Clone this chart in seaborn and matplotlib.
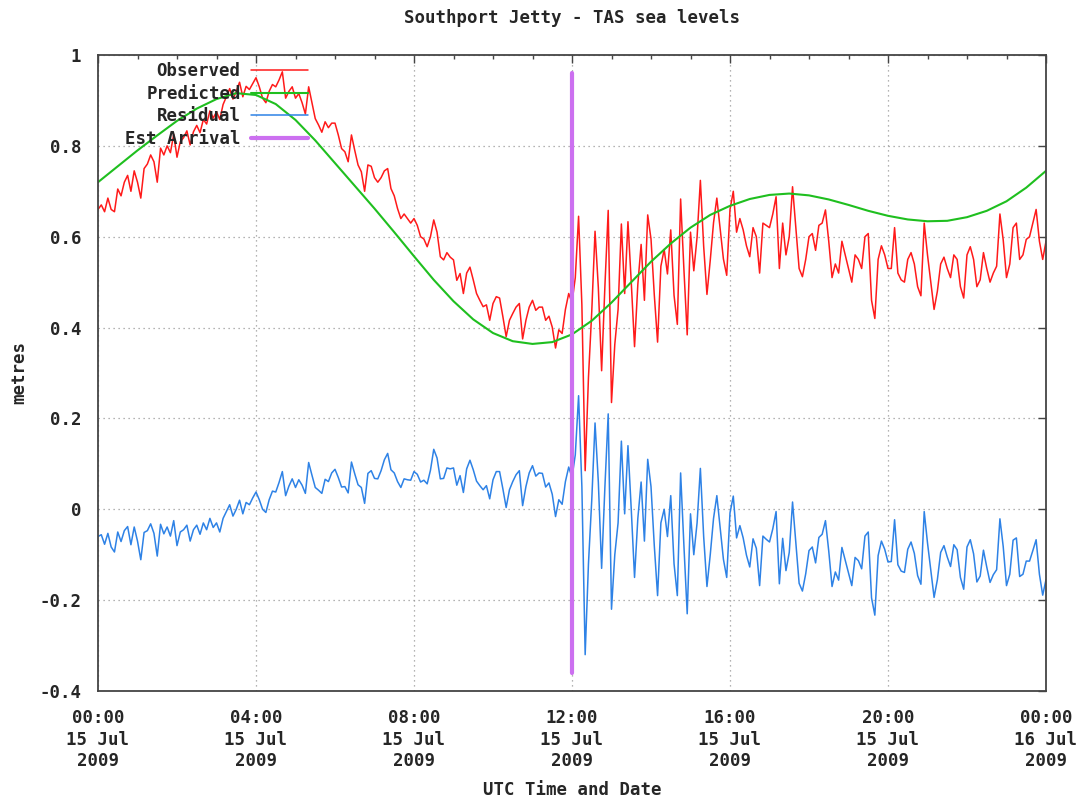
import numpy as np
import pandas as pd
import seaborn as sns
import matplotlib
matplotlib.use('Agg')
import matplotlib.pyplot as plt
import matplotlib.dates as mdates
from matplotlib.ticker import FuncFormatter, MultipleLocator

# observed sea level (m), 5-minute samples from 15 Jul 2009 00:00 UTC
observed = [
    .66, .67, .655, .685, .66, .655, .705, .69, .72, .735, .70, .745,        # 00h
    .72, .685, .75, .76, .78, .765, .72, .795, .78, .80, .785, .825,         # 01h
    .775, .809, .818, .833, .802, .831, .845, .829, .858, .848, .877, .861,  # 02h
    .875, .858, .891, .908, .926, .903, .92, .94, .908, .931, .924, .937,    # 03h
    .95, .93, .905, .895, .92, .935, .93, .945, .963, .905, .92, .93,        # 04h
    .905, .915, .895, .87, .93, .895, .86, .846, .83, .853, .84, .85,        # 05h
    .85, .824, .794, .787, .765, .824, .79, .758, .743, .70, .758, .755,     # 06h
    .73, .72, .73, .745, .75, .706, .69, .662, .64, .65, .64, .63,           # 07h
    .64, .625, .60, .595, .578, .60, .637, .61, .556, .549, .565, .555,      # 08h
    .549, .504, .519, .475, .52, .533, .505, .475, .46, .446, .45, .416,     # 09h
    .453, .468, .465, .424, .38, .416, .431, .445, .453, .375, .416, .445,   # 10h
    .46, .438, .445, .445, .416, .425, .401, .355, .395, .387, .44, .475,    # 11h
    .455, .51, .645, .45, .085, .29, .435, .612, .488, .305, .492, .658,     # 12h
    .235, .363, .44, .628, .475, .633, .50, .358, .495, .583, .46, .648,     # 13h
    .595, .472, .368, .535, .572, .518, .615, .471, .407, .683, .528, .384,  # 14h
    .61, .525, .599, .724, .579, .473, .548, .631, .685, .618, .551, .515,   # 15h
    .66, .70, .61, .64, .615, .58, .556, .62, .60, .52, .63, .625,           # 16h
    .62, .65, .688, .53, .63, .56, .60, .71, .62, .53, .512, .55,            # 17h
    .60, .607, .57, .625, .63, .659, .59, .51, .54, .52, .59, .56,           # 18h
    .53, .50, .56, .55, .53, .60, .607, .46, .42, .55, .58, .56,             # 19h
    .53, .53, .62, .52, .505, .50, .55, .565, .54, .49, .47, .63,            # 20h
    .56, .50, .44, .48, .54, .555, .53, .51, .56, .55, .49, .465,            # 21h
    .56, .578, .55, .49, .505, .565, .53, .50, .52, .535, .65, .593,         # 22h
    .51, .54, .62, .63, .55, .56, .594, .60, .63, .66, .59, .55,             # 23h
    .59,
]

# residual (observed - predicted), same 5-minute samples
residual = [
    -.06, -.056, -.077, -.053, -.083, -.094, -.05, -.071, -.047, -.038, -.078, -.039,
    -.07, -.111, -.051, -.047, -.032, -.053, -.103, -.033, -.054, -.039, -.059, -.025,
    -.08, -.05, -.045, -.035, -.07, -.045, -.035, -.055, -.03, -.045, -.02, -.04,
    -.03, -.05, -.02, -.005, .01, -.015, 0, .02, -.01, .015, .01, .025,
    .038, .021, 0, -.007, .021, .04, .038, .059, .083, .03, .051, .067,
    .048, .065, .053, .035, .103, .075, .048, .042, .035, .066, .061, .08,
    .088, .07, .049, .05, .036, .104, .078, .054, .048, .013, .079, .085,
    .068, .067, .085, .109, .123, .087, .08, .061, .048, .067, .065, .064,
    .083, .077, .06, .064, .056, .086, .132, .113, .067, .068, .091, .089,
    .091, .053, .074, .037, .089, .108, .087, .062, .052, .043, .052, .023,
    .065, .083, .083, .045, .004, .043, .061, .076, .085, .008, .05, .08,
    .096, .073, .08, .079, .049, .058, .033, -.016, .021, .011, .061, .093,
    .07, .12, .25, .05, -.32, -.12, .02, .19, .06, -.13, .05, .21,
    -.22, -.10, -.03, .15, -.01, .14, 0, -.15, -.02, .06, -.07, .11,
    .05, -.08, -.19, -.03, 0, -.06, .03, -.12, -.19, .08, -.08, -.23,
    -.01, -.10, -.03, .09, -.06, -.17, -.10, -.02, .03, -.04, -.11, -.15,
    -.008, .029, -.063, -.036, -.063, -.101, -.127, -.065, -.086, -.168, -.059, -.066,
    -.072, -.043, -.005, -.164, -.064, -.135, -.095, .016, -.074, -.163, -.18, -.142,
    -.091, -.083, -.118, -.062, -.055, -.025, -.092, -.17, -.138, -.156, -.084, -.112,
    -.14, -.168, -.106, -.113, -.131, -.059, -.05, -.195, -.233, -.102, -.07, -.088,
    -.116, -.115, -.023, -.122, -.136, -.139, -.088, -.072, -.097, -.146, -.165, -.005,
    -.074, -.134, -.194, -.155, -.095, -.08, -.105, -.126, -.078, -.089, -.15, -.176,
    -.083, -.067, -.098, -.16, -.147, -.09, -.127, -.161, -.144, -.133, -.021, -.082,
    -.168, -.143, -.068, -.063, -.148, -.143, -.114, -.114, -.091, -.067, -.143, -.189,
    -.155,
]

# predicted tide, 30-minute samples
predicted = [
    .720, .755, .790, .823, .855, .882, .903, .916, .912, .892, .857, .812,
    .762, .712, .662, .610, .557, .505, .458, .418, .388, .370, .364, .368,
    .385, .415, .455, .500, .545, .585, .620, .648, .668, .683, .692, .695,
    .691, .682, .670, .657, .646, .638, .634, .635, .643, .657, .678, .708,
    .745,
]

arrival_time = ['2009-07-15 12:00', '2009-07-15 12:00']
arrival_level = [-0.36, 0.96]

t5 = pd.date_range('2009-07-15 00:00', periods=len(observed), freq='5min')
t30 = pd.date_range('2009-07-15 00:00', periods=len(predicted), freq='30min')

sns.set_theme(style='white')
plt.rcParams['font.family'] = ['DejaVu Sans Mono']
plt.rcParams['font.weight'] = 'bold'
fs = 12.5

fig = plt.figure(figsize=(10.8, 8.02), dpi=100)
ax = fig.add_axes([98/1080, 1 - 691/802, 948/1080, 636/802])

sns.lineplot(x=t5, y=observed, ax=ax, color='#ff1a1a', lw=1.1, label='Observed',
             estimator=None, sort=False)
sns.lineplot(x=t30, y=predicted, ax=ax, color='#1fbf1f', lw=1.5, label='Predicted',
             estimator=None, sort=False)
sns.lineplot(x=t5, y=residual, ax=ax, color='#2e82e6', lw=1.1, label='Residual',
             estimator=None, sort=False)
sns.lineplot(x=pd.to_datetime(arrival_time), y=arrival_level, ax=ax, color='#cc70f0',
             lw=3, label='Est Arrival', estimator=None, sort=False)

ax.set_xlim(pd.Timestamp('2009-07-15 00:00'), pd.Timestamp('2009-07-16 00:00'))
ax.set_ylim(-0.4, 1.0)

ax.xaxis.set_major_locator(mdates.HourLocator(byhour=range(0, 24, 4)))
ax.xaxis.set_minor_locator(mdates.HourLocator())
ax.xaxis.set_major_formatter(mdates.DateFormatter('%H:%M\n%d %b\n%Y'))
ax.yaxis.set_major_locator(MultipleLocator(0.2))
ax.yaxis.set_major_formatter(FuncFormatter(lambda v, p: '%g' % round(v, 2)))

ax.tick_params(which='both', direction='in', top=True, right=True, color='#444444',
               labelsize=fs)
ax.tick_params(which='major', length=6, width=1)
ax.tick_params(which='minor', length=3, width=1)
ax.tick_params(axis='x', pad=13)
ax.tick_params(axis='y', pad=12)
for lab in ax.get_xticklabels():
    lab.set_linespacing(1.25)

ax.grid(True, which='major', color='#9a9a9a', linestyle=(0, (1, 3)), lw=0.9)
for s in ax.spines.values():
    s.set_color('#444444')
    s.set_linewidth(1.3)

ax.set_title('Southport Jetty - TAS sea levels', fontsize=fs, fontweight='bold', pad=23)
ax.set_xlabel('UTC Time and Date', fontsize=fs, fontweight='bold', labelpad=8)
ax.set_ylabel('metres', fontsize=fs, fontweight='bold', labelpad=8)

ax.legend(loc='upper right', bbox_to_anchor=(0.222, 0.989), frameon=False,
          markerfirst=False, fontsize=fs, handlelength=3.3, handletextpad=0.6,
          labelspacing=0.27, borderpad=0, borderaxespad=0)

fig.savefig('out.png', dpi=100)
